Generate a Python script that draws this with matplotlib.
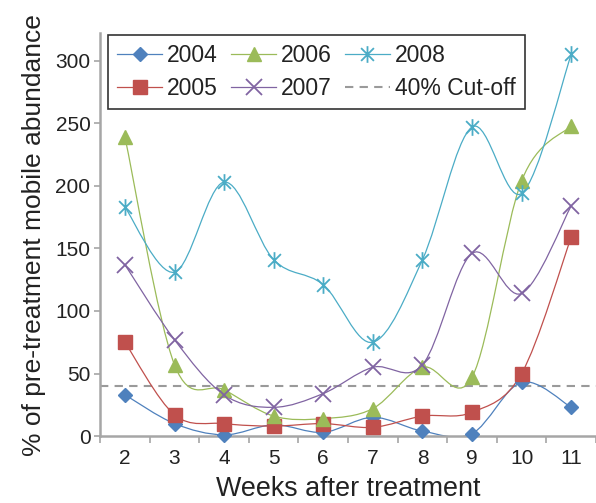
import numpy as np
import matplotlib.pyplot as plt
from matplotlib.path import Path
from matplotlib.patches import PathPatch
from matplotlib.lines import Line2D

plt.rcParams['font.family'] = ['Liberation Sans', 'DejaVu Sans']

# data
weeks = [2, 3, 4, 5, 6, 7, 8, 9, 10, 11]
y2004 = [33, 10, 1, 9, 3, 15, 4, 2, 43, 23]
y2005 = [75, 17, 10, 8, 10, 7, 16, 19, 50, 159]
y2006 = [239, 57, 37, 16, 14, 22, 55, 47, 204, 248]
y2007 = [137, 77, 33, 23, 34, 55, 57, 146, 114, 184]
y2008 = [183, 131, 203, 141, 121, 75, 141, 247, 194, 305]
cutoff = 40

# Excel-style star: an x with a vertical bar through it
star = Path([(-1, -1), (1, 1), (-1, 1), (1, -1), (0, -1.3), (0, 1.3)],
            [Path.MOVETO, Path.LINETO] * 3)

series = [
    ("2004", y2004, "#4F81BD", "D", 7, 1),
    ("2005", y2005, "#C0504D", "s", 10, 1),
    ("2006", y2006, "#9BBB59", "^", 10, 1),
    ("2007", y2007, "#8064A2", "x", 11, 1.3),
    ("2008", y2008, "#4BACC6", star, 12, 1.3),
]


def smooth_path(x, y):
    # Excel-like smoothed line (Catmull-Rom as cubic Bezier)
    pts = np.column_stack([x, y]).astype(float)
    n = len(pts)
    verts = [pts[0]]
    codes = [Path.MOVETO]
    for i in range(n - 1):
        p0 = pts[max(i - 1, 0)]
        p1 = pts[i]
        p2 = pts[i + 1]
        p3 = pts[min(i + 2, n - 1)]
        verts += [p1 + (p2 - p0) / 6, p2 - (p3 - p1) / 6, p2]
        codes += [Path.CURVE4] * 3
    return Path(verts, codes)


fig = plt.figure(figsize=(5.96, 5.03), dpi=100)
ax = fig.add_axes([0.168, 0.133, 0.832, 0.801])

handles = []
for name, vals, col, mk, ms, mew in series:
    ax.add_patch(PathPatch(smooth_path(weeks, vals), facecolor='none',
                           edgecolor=col, lw=0.9, zorder=2))
    ax.plot(weeks, vals, ls='none', marker=mk, ms=ms, color=col,
            mec=col, mew=mew, zorder=3, clip_on=False)
    handles.append(Line2D([], [], color=col, lw=0.9, marker=mk, ms=ms,
                          mew=mew, label=name))

ax.plot([1.5, 11.5], [cutoff, cutoff], ls='--', color='#9a9a9a', lw=1.5,
        dashes=(4, 3), zorder=1)
handles.append(Line2D([], [], ls='--', color='#9a9a9a', lw=1.5,
                      dashes=(4, 3), label='40% Cut-off'))

ax.set_xlim(1.5, 11.5)
ax.set_ylim(0, 322)
ax.set_yticks([0, 50, 100, 150, 200, 250, 300])
ax.set_xticks(weeks)
ax.set_xticks(np.arange(1.5, 11.6, 1), minor=True)
ax.tick_params(axis='x', which='major', length=0, pad=9, labelsize=15,
               labelcolor='#222222')
ax.tick_params(axis='x', which='minor', length=5, color='#a6a6a6', width=1.2)
ax.tick_params(axis='y', length=4, color='#a6a6a6', width=1.2, labelsize=15,
               labelcolor='#222222', pad=3)

for s in ['top', 'right']:
    ax.spines[s].set_visible(False)
for s in ['left', 'bottom']:
    ax.spines[s].set_color('#a6a6a6')
    ax.spines[s].set_linewidth(1.8)

ax.set_xlabel("Weeks after treatment", fontsize=19.4, labelpad=6, color='#222222')
ax.set_ylabel("% of pre-treatment mobile abundance", fontsize=19, labelpad=7,
              color='#222222')

leg = ax.legend(handles=handles, ncol=3, loc='upper left',
                bbox_to_anchor=(0.016, 0.995), borderaxespad=0, fontsize=16.5,
                frameon=True, fancybox=False, edgecolor='black',
                handlelength=1.96, columnspacing=0.57, handletextpad=0.22,
                labelspacing=0.42, borderpad=0.4)
leg.get_frame().set_linewidth(1.2)
for t in leg.get_texts():
    t.set_color('#222222')

fig.savefig("out.png", dpi=100)
